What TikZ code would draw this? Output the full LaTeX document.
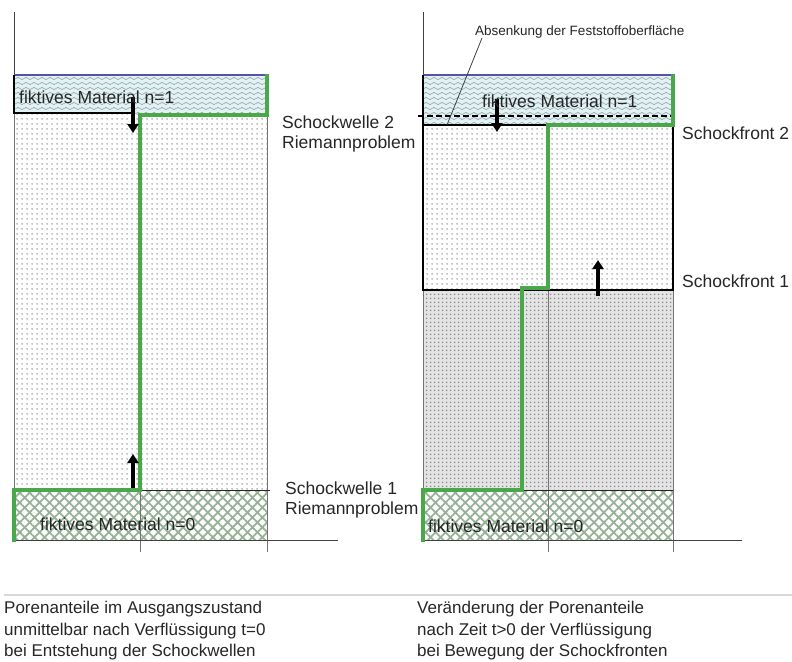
\documentclass[tikz,border=0pt]{standalone}
\usepackage{fontspec}
\setmainfont{Liberation Sans}
\usetikzlibrary{patterns.meta,arrows.meta}

\definecolor{gline}{RGB}{74,168,74}
\definecolor{bline}{RGB}{84,84,170}
\definecolor{wavebg}{RGB}{226,242,244}
\definecolor{wavefg}{RGB}{150,165,170}
\definecolor{hatchc}{RGB}{150,178,150}
\definecolor{dotc}{RGB}{140,140,140}
\definecolor{densebg}{RGB}{228,228,228}

\tikzdeclarepattern{
  name=wavy, type=uncolored,
  bounding box={(-1pt,-1pt) and (9pt,6pt)},
  tile size={(8pt,5pt)},
  code={\draw[line width=0.6pt] (0pt,2.5pt) sin (2pt,3.6pt) cos (4pt,2.5pt) sin (6pt,1.4pt) cos (8pt,2.5pt);}
}
\tikzdeclarepattern{
  name=dotsA, type=uncolored,
  bounding box={(0pt,0pt) and (5pt,5pt)},
  tile size={(5pt,5pt)},
  code={\fill (2.5pt,2.5pt) circle (0.95pt);}
}
\tikzdeclarepattern{
  name=dotsB, type=uncolored,
  bounding box={(0pt,0pt) and (3.6pt,3.6pt)},
  tile size={(3.6pt,3.6pt)},
  code={\fill (1.8pt,1.8pt) circle (0.95pt);}
}

\tikzset{
  lbl/.style={anchor=base west, inner sep=0pt, font=\fontsize{17.5}{20}\selectfont, text=black!85},
  captxt/.style={anchor=base west, inner sep=0pt, font=\fontsize{17}{20}\selectfont, text=black!85},
  smalltxt/.style={anchor=base west, inner sep=0pt, font=\fontsize{13.5}{16}\selectfont, text=black!85},
  wavefill/.style={fill=wavebg, postaction={pattern=wavy, pattern color=wavefg}},
  dotfill/.style={fill=white, postaction={pattern=dotsA, pattern color=dotc}},
  densefill/.style={fill=densebg, postaction={pattern=dotsB, pattern color=dotc}},
  hatchfill/.style={fill=white,
     postaction={pattern={Lines[angle=45,distance=7pt,line width=1.8pt]}, pattern color=hatchc},
     postaction={pattern={Lines[angle=-45,distance=7pt,line width=1.8pt]}, pattern color=hatchc}},
  axisline/.style={draw=black!75, line width=0.9pt},
  edgeline/.style={draw=black!55, line width=0.8pt},
  thinblk/.style={draw=black!85, line width=1pt},
  thickblk/.style={draw=black, line width=2.8pt},
  greenl/.style={draw=gline, line width=3.5pt, line cap=rect},
  bluel/.style={draw=bline, line width=2pt},
  movearrow/.style={draw=black, line width=4.2pt, -{Triangle[length=9pt,width=11pt]}},
}

\begin{document}
\begin{tikzpicture}[x=1pt,y=-1pt]
\useasboundingbox (0,0) rectangle (792,661);

% ================= LEFT PANEL =================
\fill[wavefill] (14,75) rectangle (267,114);
\fill[dotfill] (14,114) rectangle (267,490);
\fill[hatchfill] (14,490) rectangle (267,540);

\draw[axisline] (14,12) -- (14,75);
\draw[edgeline] (14,113) -- (14,490);
\draw[edgeline] (267,115) -- (267,490);
\draw[edgeline] (140,490) -- (140,552);
\draw[edgeline] (267,490) -- (267,552);
\draw[thinblk] (140,490) -- (270,490);
\draw[axisline] (14,540) -- (338,540);

\draw[bluel] (14,75) -- (267,75);
\draw[thickblk] (14,75) -- (14,113) -- (135,113);
\draw[greenl] (267,76) -- (267,115) -- (140,115) -- (140,490) -- (14,490) -- (14,540);

\coordinate (la1) at (133,97);
\coordinate (la2) at (133,133);
\coordinate (lb1) at (133,488);
\coordinate (lb2) at (133,454);
\draw[movearrow] (la1) -- (la2);
\draw[movearrow] (lb1) -- (lb2);

\node[lbl] (lfm1) at (19,103) {fiktives Material n=1};
\node[lbl] (lfm0) at (40,530) {fiktives Material n=0};
\node[lbl] (sw2a) at (282,128) {Schockwelle 2};
\node[lbl] (sw2b) at (282,148) {Riemannproblem};
\node[lbl] (sw1a) at (285,494) {Schockwelle 1};
\node[lbl] (sw1b) at (285,514) {Riemannproblem};

% ================= RIGHT PANEL =================
\fill[wavefill] (423,75) rectangle (673,125);
\fill[dotfill] (423,125) rectangle (673,290);
\fill[densefill] (423,290) rectangle (673,490);
\fill[hatchfill] (423,490) rectangle (673,540);

\draw[axisline] (423,12) -- (423,75);
\draw[edgeline] (423,290) -- (423,490);
\draw[edgeline] (673,290) -- (673,552);
\draw[edgeline] (548,290) -- (548,552);
\draw[thinblk] (522,490) -- (673,490);
\draw[axisline] (423,540) -- (742,540);

\draw[bluel] (423,75) -- (673,75);
\draw[black, line width=1.6pt, dash pattern=on 6pt off 3pt] (418,116) -- (673,116);
\draw[thickblk] (423,75) -- (423,290) -- (673,290) -- (673,125);
\draw[thickblk] (423,125) -- (548,125);
\draw[greenl] (673,76) -- (673,125) -- (548,125) -- (548,288) -- (522,288) -- (522,490) -- (423,490) -- (423,540);

\coordinate (ra1) at (497,99);
\coordinate (ra2) at (497,132);
\coordinate (rb1) at (598,296);
\coordinate (rb2) at (598,260);
\draw[movearrow] (ra1) -- (ra2);
\draw[movearrow] (rb1) -- (rb2);

\node[lbl] (rfm1) at (482,107) {fiktives Material n=1};
\node[lbl] (rfm0) at (428,532) {fiktives Material n=0};
\node[lbl] (sf2) at (682,139) {Schockfront 2};
\node[lbl] (sf1) at (682,287) {Schockfront 1};
\node[smalltxt] (abs) at (475,36) {Absenkung der Feststoffoberfläche};
\coordinate (surf) at (447,125);
\draw[black!75, line width=0.8pt] (abs.base west) ++(7,2) coordinate (absl) -- (surf);

% ================= CAPTIONS =================
\draw[black!15, line width=1.5pt] (4,595) -- (792,595);
\node[captxt] (cl1) at (4,613) {Porenanteile im Ausgangszustand};
\node[captxt] (cl2) at (4,635) {unmittelbar nach Verflüssigung t=0};
\node[captxt] (cl3) at (4,656) {bei Entstehung der Schockwellen};
\node[captxt] (cr1) at (417,613) {Veränderung der Porenanteile};
\node[captxt] (cr2) at (417,635) {nach Zeit t>0 der Verflüssigung};
\node[captxt] (cr3) at (417,656) {bei Bewegung der Schockfronten};
\end{tikzpicture}
\end{document}
